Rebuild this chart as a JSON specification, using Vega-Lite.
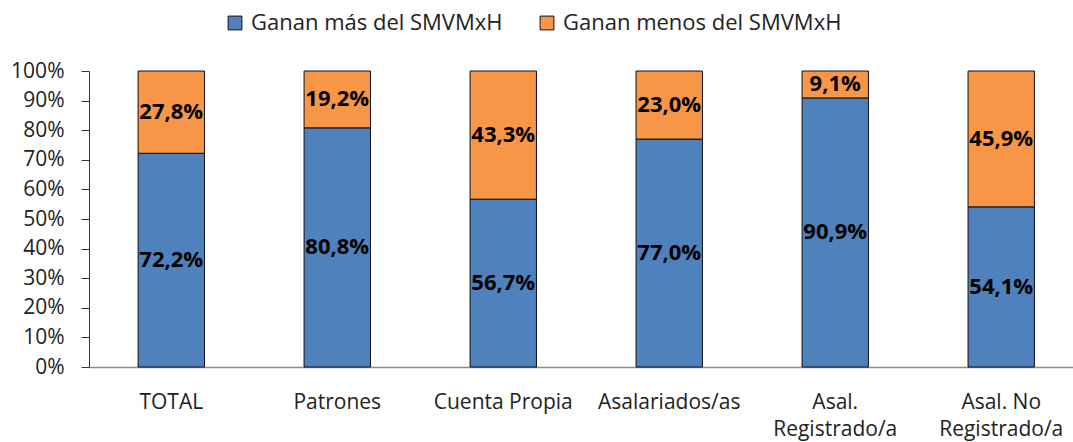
{
  "$schema": "https://vega.github.io/schema/vega-lite/v6.json",
  "width": 984,
  "height": 296,
  "autosize": {"type": "none"},
  "padding": {"left": 89, "top": 71, "right": 0, "bottom": 75},
  "background": "white",
  "config": {
    "view": {"stroke": null},
    "font": "Open Sans",
    "locale": {"number": {"decimal": ",", "thousands": ".", "grouping": [3], "currency": ["$", ""]}}
  },
  "data": {
    "values": [
      {"cat": "TOTAL", "serie": "Ganan más del SMVMxH", "ord": 1, "v": 0.722},
      {"cat": "TOTAL", "serie": "Ganan menos del SMVMxH", "ord": 2, "v": 0.278},
      {"cat": "Patrones", "serie": "Ganan más del SMVMxH", "ord": 1, "v": 0.808},
      {"cat": "Patrones", "serie": "Ganan menos del SMVMxH", "ord": 2, "v": 0.192},
      {"cat": "Cuenta Propia", "serie": "Ganan más del SMVMxH", "ord": 1, "v": 0.567},
      {"cat": "Cuenta Propia", "serie": "Ganan menos del SMVMxH", "ord": 2, "v": 0.433},
      {"cat": "Asalariados/as", "serie": "Ganan más del SMVMxH", "ord": 1, "v": 0.770},
      {"cat": "Asalariados/as", "serie": "Ganan menos del SMVMxH", "ord": 2, "v": 0.230},
      {"cat": "Asal.|Registrado/a", "serie": "Ganan más del SMVMxH", "ord": 1, "v": 0.909},
      {"cat": "Asal.|Registrado/a", "serie": "Ganan menos del SMVMxH", "ord": 2, "v": 0.091},
      {"cat": "Asal. No|Registrado/a", "serie": "Ganan más del SMVMxH", "ord": 1, "v": 0.541},
      {"cat": "Asal. No|Registrado/a", "serie": "Ganan menos del SMVMxH", "ord": 2, "v": 0.459}
    ]
  },
  "encoding": {
    "x": {
      "field": "cat", "type": "nominal", "sort": null,
      "scale": {"paddingInner": 0.6, "paddingOuter": 0.264, "align": 0.56},
      "axis": {
        "title": null, "labelAngle": 0, "ticks": false,
        "domainColor": "#8c8c8c", "domainWidth": 1.5,
        "labelFontSize": 21, "labelColor": "#222", "labelPadding": 35,
        "labelLineHeight": 27, "labelBaseline": "middle", "labelLimit": 300,
        "labelExpr": "split(datum.label, '|')"
      }
    }
  },
  "layer": [
    {
      "mark": {"type": "bar", "stroke": "#111", "strokeWidth": 1},
      "encoding": {
        "y": {
          "field": "v", "type": "quantitative", "stack": "zero",
          "scale": {"domain": [0, 1], "nice": false},
          "axis": {
            "title": null, "format": ".0%", "values": [0,0.1,0.2,0.3,0.4,0.5,0.6,0.7,0.8,0.9,1],
            "labelOverlap": false,
            "grid": false, "domainColor": "#333", "tickColor": "#333",
            "tickSize": 8, "labelFontSize": 21, "labelColor": "#222", "labelPadding": 17
          }
        },
        "color": {
          "field": "serie", "type": "nominal",
          "scale": {"domain": ["Ganan más del SMVMxH", "Ganan menos del SMVMxH"], "range": ["#4f81bd", "#f79646"]},
          "legend": {
            "title": null, "orient": "none", "direction": "horizontal",
            "legendX": 135, "legendY": -59, "labelLimit": 400,
            "symbolType": "square", "symbolSize": 190, "symbolStrokeColor": "#111", "symbolStrokeWidth": 1,
            "labelFontSize": 22, "labelColor": "#222", "labelOffset": 5, "columnPadding": 33
          }
        },
        "order": {"field": "ord", "type": "quantitative"}
      }
    },
    {
      "mark": {"type": "text", "fontWeight": "bold", "fontSize": 22, "color": "#000", "baseline": "middle"},
      "encoding": {
        "y": {
          "field": "v", "type": "quantitative", "stack": "zero", "bandPosition": 0.5,
          "axis": {
            "title": null, "format": ".0%", "values": [0,0.1,0.2,0.3,0.4,0.5,0.6,0.7,0.8,0.9,1],
            "labelOverlap": false,
            "grid": false, "domainColor": "#333", "tickColor": "#333",
            "tickSize": 8, "labelFontSize": 21, "labelColor": "#222", "labelPadding": 17
          }
        },
        "detail": {"field": "serie"},
        "order": {"field": "ord", "type": "quantitative"},
        "text": {"field": "v", "type": "quantitative", "format": ".1%"}
      }
    }
  ]
}
